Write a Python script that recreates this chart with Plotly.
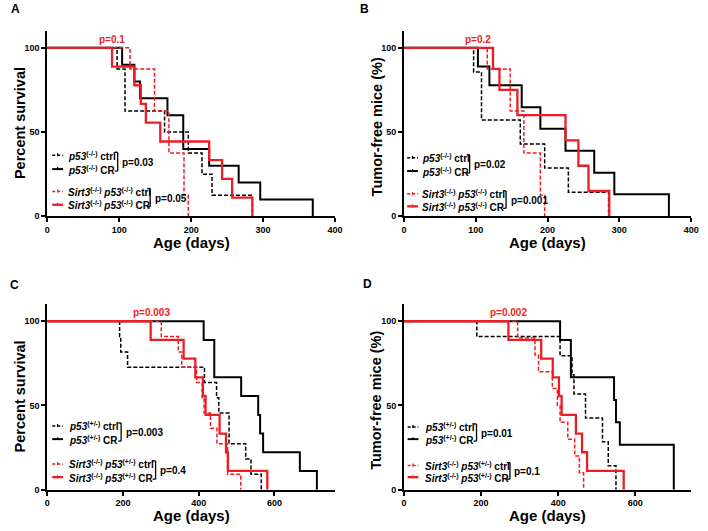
import plotly.graph_objects as go

W, H = 708, 531
RED = "#ee1d23"
FONT = "Arial, Liberation Sans, sans-serif"

# ---------------- data (days, percent) ----------------
# Panel A : Percent survival, p53(-/-)
a_ctrl_t = [0, 97, 108, 163, 196, 215, 229, 285]
a_ctrl_s = [100, 87.5, 62.5, 50, 37.5, 25, 12.5, 0]
a_cr_t = [0, 104, 121, 129, 167, 189, 225, 266, 296, 369]
a_cr_s = [100, 90, 80, 70, 60, 40, 30, 20, 10, 0]
a_sctrl_t = [0, 115, 149, 169, 190, 196]
a_sctrl_s = [100, 87.5, 62.5, 37.5, 12.5, 0]
a_scr_t = [0, 90, 121, 130, 137, 157, 225, 243, 257, 285]
a_scr_s = [100, 88.9, 77.8, 66.7, 55.6, 44.4, 33.3, 22.2, 11.1, 0]

# Panel B : Tumor-free mice, p53(-/-)
b_ctrl_t = [0, 97, 108, 162, 196, 229, 285]
b_ctrl_s = [100, 85.7, 57.1, 42.9, 28.6, 14.3, 0]
b_cr_t = [0, 103, 119, 164, 190, 225, 265, 293, 369]
b_cr_s = [100, 88.9, 77.8, 64.8, 51.9, 38.9, 25.9, 13.0, 0]
b_sctrl_t = [0, 116, 148, 167, 190, 196]
b_sctrl_s = [100, 87.5, 62.5, 37.5, 12.5, 0]
b_scr_t = [0, 124, 133, 158, 225, 243, 257, 286]
b_scr_s = [100, 87.5, 75, 60, 45, 30, 15, 0]

# Panel C : Percent survival, p53(+/-)
c_ctrl_t = [0, 191, 194, 212, 415, 447, 453, 480, 524, 538, 565]
c_ctrl_s = [100, 90.9, 81.8, 72.7, 63.6, 54.5, 45.5, 27.3, 18.2, 9.1, 0]
c_cr_t = [0, 413, 441, 512, 557, 562, 570, 667, 712]
c_cr_s = [100, 88.9, 66.7, 55.6, 44.4, 33.3, 22.2, 11.1, 0]
c_sctrl_t = [0, 301, 346, 355, 394, 409, 414, 431, 448, 476, 511]
c_sctrl_s = [100, 90.9, 81.8, 72.7, 63.6, 54.5, 45.5, 36.4, 27.3, 9.1, 0]
c_scr_t = [0, 273, 360, 391, 411, 418, 455, 472, 477, 581]
c_scr_s = [100, 88.9, 77.8, 66.7, 55.6, 44.4, 33.3, 22.2, 11.1, 0]

# Panel D : Tumor-free mice, p53(+/-)
d_ctrl_t = [0, 189, 405, 436, 441, 471, 515, 530, 550]
d_ctrl_s = [100, 90.9, 79.5, 68.2, 56.8, 42.6, 28.4, 14.2, 0]
d_cr_t = [0, 405, 433, 545, 550, 560, 700]
d_cr_s = [100, 88.9, 66.7, 53.3, 40.0, 26.7, 0]
d_sctrl_t = [0, 295, 340, 349, 385, 398, 405, 425, 443, 455, 466]
d_sctrl_s = [100, 90, 80, 70, 60, 50, 40, 30, 20, 10, 0]
d_scr_t = [0, 271, 356, 386, 402, 409, 446, 462, 475, 570]
d_scr_s = [100, 88.9, 77.8, 66.7, 55.6, 44.4, 33.3, 22.2, 11.1, 0]

panel_letters = ["A", "B", "C", "D"]
y_titles = ["Percent survival", "Tumor-free mice (%)", "Percent survival", "Tumor-free mice (%)"]
x_title = "Age (days)"
top_p = ["p=0.1", "p=0.2", "p=0.003", "p=0.002"]
black_p = ["p=0.03", "p=0.02", "p=0.003", "p=0.01"]
red_p = ["p=0.05", "p=0.001", "p=0.4", "p=0.1"]
geno_top = ["(-/-)", "(-/-)", "(+/-)", "(+/-)"]
x_ranges = [[0, 400], [0, 400], [0, 760], [0, 745]]
x_ticks = [[0, 100, 200, 300, 400], [0, 100, 200, 300, 400], [0, 200, 400, 600], [0, 200, 400, 600]]
y_ticks = [0, 50, 100]

series = [
    (a_ctrl_t, a_ctrl_s, a_cr_t, a_cr_s, a_sctrl_t, a_sctrl_s, a_scr_t, a_scr_s),
    (b_ctrl_t, b_ctrl_s, b_cr_t, b_cr_s, b_sctrl_t, b_sctrl_s, b_scr_t, b_scr_s),
    (c_ctrl_t, c_ctrl_s, c_cr_t, c_cr_s, c_sctrl_t, c_sctrl_s, c_scr_t, c_scr_s),
    (d_ctrl_t, d_ctrl_s, d_cr_t, d_cr_s, d_sctrl_t, d_sctrl_s, d_scr_t, d_scr_s),
]

# ---------------- layout geometry (pixels) ----------------
panels = [
    dict(x0=45, x1=337.3, ybot=218.3, ytop=31.3),
    dict(x0=407.3, x1=699, ybot=218.3, ytop=31.3),
    dict(x0=45, x1=337.3, ybot=494.3, ytop=307.3),
    dict(x0=407.3, x1=699, ybot=494.3, ytop=307.3),
]
letter_pos = [(13, 9), (367, 9), (12, 287.5), (370, 287)]
ytitle_pos = [(17.5, 124), (379.5, 128), (17.5, 400), (379.5, 404)]
xtitle_pos = [(191, 245), (553, 245), (191, 520), (553, 520)]
top_p_pos = [(110.8, 39.5), (483, 39.5), (150.8, 315.5), (513, 315.5)]
leg = [
    dict(sx=50, tx=63.5, rows=[156.7, 170.7, 193.3, 206.7], b1=116.5, b2=149.5),
    dict(sx=410.5, tx=424, rows=[159.3, 172.7, 195.7, 208.3], b1=474, b2=511),
    dict(sx=50, tx=65, rows=[430, 443.3, 468.3, 481.7], b1=120, b2=155),
    dict(sx=411, tx=426.5, rows=[431, 443.3, 470, 481.7], b1=481, b2=515),
]


def px(x):
    return x / W


def py(y):
    return 1 - y / H


def note(text, x, y, size, color="black", xanchor="center", angle=0):
    return dict(text=text, x=px(x), y=py(y), xref="paper", yref="paper", showarrow=False,
                xanchor=xanchor, yanchor="middle", textangle=angle,
                font=dict(size=size, family=FONT, color=color))


fig = go.Figure()
layout = dict(width=W, height=H, margin=dict(l=0, r=0, t=0, b=0, pad=0),
              plot_bgcolor="white", paper_bgcolor="white", showlegend=False,
              font=dict(family=FONT, color="black"))
annotations = []
shapes = []

for i in range(4):
    p = panels[i]
    xa = "x" if i == 0 else f"x{i+1}"
    ya = "y" if i == 0 else f"y{i+1}"
    axkey = "xaxis" if i == 0 else f"xaxis{i+1}"
    aykey = "yaxis" if i == 0 else f"yaxis{i+1}"
    common = dict(showline=True, linecolor="black", linewidth=2,
                  ticks="outside", ticklen=4, tickwidth=2, tickcolor="black",
                  showgrid=False, zeroline=False, fixedrange=True,
                  tickfont=dict(family=FONT, size=9, color="black", weight="bold"))
    layout[axkey] = dict(domain=[px(p["x0"]), px(p["x1"])], anchor=ya, range=x_ranges[i],
                         tickvals=x_ticks[i], **common)
    layout[aykey] = dict(domain=[py(p["ybot"]), py(p["ytop"])], anchor=xa, range=[0, 110],
                         tickvals=y_ticks, **common)

    ct, cs, rt, rs, st, ss, srt, srs = series[i]
    styles = [
        (ct, cs, "black", 1.5, "4px,2px"),
        (rt, rs, "black", 2, "solid"),
        (st, ss, RED, 1.5, "4px,2px"),
        (srt, srs, RED, 2.3, "solid"),
    ]
    for tx, sy, col, lw, dash in styles:
        fig.add_trace(go.Scatter(x=tx, y=sy, mode="lines", xaxis=xa, yaxis=ya,
                                 line=dict(shape="hv", color=col, width=lw, dash=dash),
                                 hoverinfo="skip"))

    annotations.append(note("<b>%s</b>" % panel_letters[i], *letter_pos[i], 12))
    annotations.append(note("<b>%s</b>" % y_titles[i], *ytitle_pos[i], 14.5, angle=-90))
    annotations.append(note("<b>%s</b>" % x_title, *xtitle_pos[i], 15))
    annotations.append(note("<b>%s</b>" % top_p[i], *top_p_pos[i], 10, color=RED))

    # legend
    L = leg[i]
    g = geno_top[i]
    labels = [
        "<b><i>p53</i><sup>%s</sup> ctrl</b>" % g,
        "<b><i>p53</i><sup>%s</sup> CR</b>" % g,
        "<b><i>Sirt3</i><sup>(-/-)</sup> <i>p53</i><sup>%s</sup> ctrl</b>" % g,
        "<b><i>Sirt3</i><sup>(-/-)</sup> <i>p53</i><sup>%s</sup> CR</b>" % g,
    ]
    lstyles = [("black", 1.5, "3px,2px"), ("black", 2, "solid"), (RED, 1.5, "3px,2px"), (RED, 2.3, "solid")]
    for k in range(4):
        ry = L["rows"][k]
        col, lw, dash = lstyles[k]
        shapes.append(dict(type="line", xref="paper", yref="paper", x0=px(L["sx"]), x1=px(L["sx"] + 11),
                           y0=py(ry), y1=py(ry), line=dict(color=col, width=lw, dash=dash)))
        shapes.append(dict(type="line", xref="paper", yref="paper", x0=px(L["sx"] + 5.5), x1=px(L["sx"] + 5.5),
                           y0=py(ry - 2), y1=py(ry + 1), line=dict(color=col, width=1.2)))
        annotations.append(note(labels[k], L["tx"], ry + 0.5, 10, xanchor="left"))
    for bx, r1, r2, ptxt in [(L["b1"], L["rows"][0], L["rows"][1], black_p[i]),
                             (L["b2"], L["rows"][2], L["rows"][3], red_p[i])]:
        top, bot = r1 - 3, r2 + 2
        for seg in [(bx, top, bx, bot), (bx - 3, top, bx, top), (bx - 3, bot, bx, bot)]:
            shapes.append(dict(type="line", xref="paper", yref="paper", x0=px(seg[0]), y0=py(seg[1]),
                               x1=px(seg[2]), y1=py(seg[3]), line=dict(color="black", width=1.3)))
        annotations.append(note("<b>%s</b>" % ptxt, bx + 2.5, (r1 + r2) / 2, 10, xanchor="left"))

layout["annotations"] = annotations
layout["shapes"] = shapes
fig.update_layout(**layout)
fig.write_html("out.html", config={"displayModeBar": False},
               post_script="document.body.style.margin='0';document.body.style.overflow='hidden';")
